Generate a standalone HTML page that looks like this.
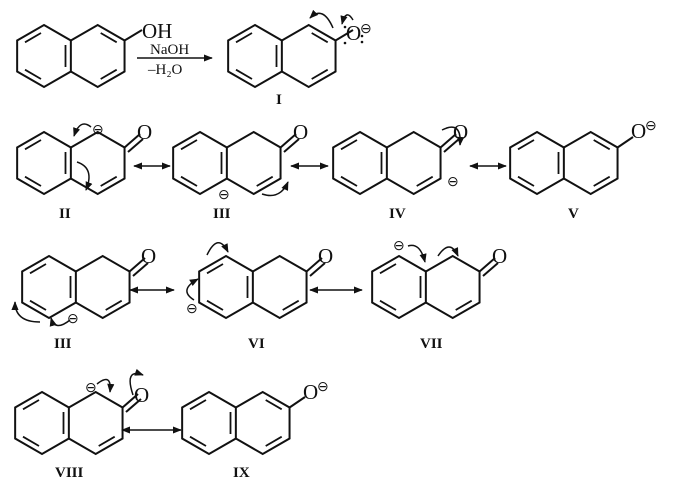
<!DOCTYPE html>
<html><head><meta charset="utf-8"><style>
html,body{margin:0;padding:0;background:#fff}
svg{display:block}
text{font-family:"Liberation Serif",serif;fill:#111}
</style></head><body>
<svg width="699" height="491" viewBox="0 0 699 491" xmlns="http://www.w3.org/2000/svg">
<defs>
<marker id="ah" viewBox="0 0 10 10" refX="9" refY="5" markerWidth="6" markerHeight="6" orient="auto-start-reverse"><path d="M0,1 L10,5 L0,9 z" fill="#111"/></marker>
<g id="nap" fill="none" stroke="#111" stroke-width="2">
<path d="M0,-31 L26.85,-15.5 L26.85,15.5 L0,31 L-26.85,15.5 L-26.85,-15.5 Z"/>
<path d="M26.85,-15.5 L53.7,-31 L80.55,-15.5 L80.55,15.5 L53.7,31 L26.85,15.5"/>
</g>
<g id="arom" stroke="#111" stroke-width="1.8">
<line x1="-3" y1="-23" x2="-19" y2="-13.7"/><line x1="-19" y1="13.7" x2="-3" y2="23"/>
<line x1="21.5" y1="-11" x2="21.5" y2="11"/>
<line x1="56.7" y1="-23" x2="72.7" y2="-13.7"/><line x1="72.7" y1="13.7" x2="56.7" y2="23"/>
</g>
<g id="keto" stroke="#111" stroke-width="1.8">
<line x1="-3" y1="-23" x2="-19" y2="-13.7"/><line x1="-19" y1="13.7" x2="-3" y2="23"/>
<line x1="21.5" y1="-11" x2="21.5" y2="11"/>
<line x1="72.7" y1="13.7" x2="56.7" y2="23"/>
</g>
</defs>

<!-- 2-naphthol -->
<g transform="translate(44,56)"><use href="#nap"/><use href="#arom"/><line x1="80.55" y1="-15.5" x2="98" y2="-26" stroke="#111" stroke-width="2"/></g>
<text x="142" y="38" font-size="21">OH</text>
<text x="150" y="54" font-size="15">NaOH</text>
<line x1="137" y1="58" x2="212" y2="58" stroke="#111" stroke-width="1.5" marker-end="url(#ah)"/>
<text x="148" y="74" font-size="15">–H₂O</text>

<!-- I -->
<g transform="translate(255,56)"><use href="#nap"/><use href="#arom"/><line x1="80.55" y1="-15.5" x2="98" y2="-26" stroke="#111" stroke-width="2"/></g>
<text x="346" y="40" font-size="21">O</text>
<text x="360" y="33" font-size="14">⊖</text>
<g fill="#111"><circle cx="345" cy="27" r="1.3"/><circle cx="345" cy="43" r="1.3"/><circle cx="362" cy="36" r="1.3"/><circle cx="362" cy="42" r="1.3"/></g>
<path d="M333,28 Q323,5 310,18" fill="none" stroke="#111" stroke-width="1.5" marker-end="url(#ah)"/>
<path d="M353,20 Q346,8 342,24" fill="none" stroke="#111" stroke-width="1.5" marker-end="url(#ah)"/>
<text x="276" y="104" font-size="15" font-weight="bold">I</text>

<!-- Row 2 -->
<g transform="translate(44,163)"><use href="#nap"/><use href="#keto"/><line x1="80.55" y1="-15.5" x2="96" y2="-29" stroke="#111" stroke-width="2"/><line x1="84" y1="-11" x2="99" y2="-24" stroke="#111" stroke-width="2"/></g>
<text x="137" y="139" font-size="21">O</text>
<text x="92" y="134" font-size="14">⊖</text>
<path d="M91,127 Q80,118 74,136" fill="none" stroke="#111" stroke-width="1.5" marker-end="url(#ah)"/>
<path d="M77,162 Q95,168 86,190" fill="none" stroke="#111" stroke-width="1.5" marker-end="url(#ah)"/>
<text x="59" y="218" font-size="15" font-weight="bold">II</text>
<line x1="134" y1="166" x2="170" y2="166" stroke="#111" stroke-width="1.5" marker-start="url(#ah)" marker-end="url(#ah)"/>

<g transform="translate(200,163)"><use href="#nap"/><use href="#keto"/><line x1="80.55" y1="-15.5" x2="96" y2="-29" stroke="#111" stroke-width="2"/><line x1="84" y1="-11" x2="99" y2="-24" stroke="#111" stroke-width="2"/></g>
<text x="293" y="139" font-size="21">O</text>
<text x="218" y="199" font-size="14">⊖</text>
<path d="M262,194 Q280,200 288,182" fill="none" stroke="#111" stroke-width="1.5" marker-end="url(#ah)"/>
<text x="213" y="218" font-size="15" font-weight="bold">III</text>
<line x1="291" y1="166" x2="328" y2="166" stroke="#111" stroke-width="1.5" marker-start="url(#ah)" marker-end="url(#ah)"/>

<g transform="translate(360,163)"><use href="#nap"/><use href="#keto"/><line x1="80.55" y1="-15.5" x2="96" y2="-29" stroke="#111" stroke-width="2"/><line x1="84" y1="-11" x2="99" y2="-24" stroke="#111" stroke-width="2"/></g>
<text x="453" y="139" font-size="21">O</text>
<text x="447" y="186" font-size="14">⊖</text>
<path d="M442,130 Q462,120 460,145" fill="none" stroke="#111" stroke-width="1.5" marker-end="url(#ah)"/>
<text x="389" y="218" font-size="15" font-weight="bold">IV</text>
<line x1="470" y1="166" x2="506" y2="166" stroke="#111" stroke-width="1.5" marker-start="url(#ah)" marker-end="url(#ah)"/>

<g transform="translate(537,163)"><use href="#nap"/><use href="#arom"/><line x1="80.55" y1="-15.5" x2="96" y2="-26" stroke="#111" stroke-width="2"/></g>
<text x="631" y="138" font-size="21">O</text>
<text x="645" y="130" font-size="14">⊖</text>
<text x="568" y="218" font-size="15" font-weight="bold">V</text>

<!-- Row 3 -->
<g transform="translate(49,287)"><use href="#nap"/><use href="#keto"/><line x1="80.55" y1="-15.5" x2="96" y2="-29" stroke="#111" stroke-width="2"/><line x1="84" y1="-11" x2="99" y2="-24" stroke="#111" stroke-width="2"/></g>
<text x="141" y="263" font-size="21">O</text>
<text x="67" y="323" font-size="14">⊖</text>
<path d="M70,320 Q55,332 51,318" fill="none" stroke="#111" stroke-width="1.5" marker-end="url(#ah)"/>
<path d="M40,322 Q15,322 15,302" fill="none" stroke="#111" stroke-width="1.5" marker-end="url(#ah)"/>
<text x="54" y="348" font-size="15" font-weight="bold">III</text>
<line x1="130" y1="290" x2="174" y2="290" stroke="#111" stroke-width="1.5" marker-start="url(#ah)" marker-end="url(#ah)"/>

<g transform="translate(226,287)"><use href="#nap"/><use href="#keto"/><line x1="80.55" y1="-15.5" x2="96" y2="-29" stroke="#111" stroke-width="2"/><line x1="84" y1="-11" x2="99" y2="-24" stroke="#111" stroke-width="2"/></g>
<text x="318" y="263" font-size="21">O</text>
<text x="186" y="313" font-size="14">⊖</text>
<path d="M194,300 Q178,290 198,279" fill="none" stroke="#111" stroke-width="1.5" marker-end="url(#ah)"/>
<path d="M207,255 Q218,232 228,252" fill="none" stroke="#111" stroke-width="1.5" marker-end="url(#ah)"/>
<text x="248" y="348" font-size="15" font-weight="bold">VI</text>
<line x1="310" y1="290" x2="362" y2="290" stroke="#111" stroke-width="1.5" marker-start="url(#ah)" marker-end="url(#ah)"/>

<g transform="translate(399,287)"><use href="#nap"/><use href="#keto"/><line x1="80.55" y1="-15.5" x2="96" y2="-29" stroke="#111" stroke-width="2"/><line x1="84" y1="-11" x2="99" y2="-24" stroke="#111" stroke-width="2"/></g>
<text x="492" y="263" font-size="21">O</text>
<text x="393" y="250" font-size="14">⊖</text>
<path d="M408,246 Q420,242 425,262" fill="none" stroke="#111" stroke-width="1.5" marker-end="url(#ah)"/>
<path d="M438,256 Q450,238 458,256" fill="none" stroke="#111" stroke-width="1.5" marker-end="url(#ah)"/>
<text x="420" y="348" font-size="15" font-weight="bold">VII</text>

<!-- Row 4 -->
<g transform="translate(42,423)"><use href="#nap"/><use href="#keto"/><line x1="80.55" y1="-15.5" x2="96" y2="-29" stroke="#111" stroke-width="2"/><line x1="84" y1="-11" x2="99" y2="-24" stroke="#111" stroke-width="2"/></g>
<text x="134" y="402" font-size="21">O</text>
<text x="85" y="392" font-size="14">⊖</text>
<path d="M97,384 Q112,372 110,392" fill="none" stroke="#111" stroke-width="1.5" marker-end="url(#ah)"/>
<path d="M133,395 Q124,368 143,375" fill="none" stroke="#111" stroke-width="1.5" marker-end="url(#ah)"/>
<text x="55" y="477" font-size="15" font-weight="bold">VIII</text>
<line x1="122" y1="430" x2="181" y2="430" stroke="#111" stroke-width="1.5" marker-start="url(#ah)" marker-end="url(#ah)"/>

<g transform="translate(209,423)"><use href="#nap"/><use href="#arom"/><line x1="80.55" y1="-15.5" x2="96" y2="-26" stroke="#111" stroke-width="2"/></g>
<text x="303" y="399" font-size="21">O</text>
<text x="317" y="391" font-size="14">⊖</text>
<text x="233" y="477" font-size="15" font-weight="bold">IX</text>
</svg>
</body></html>
